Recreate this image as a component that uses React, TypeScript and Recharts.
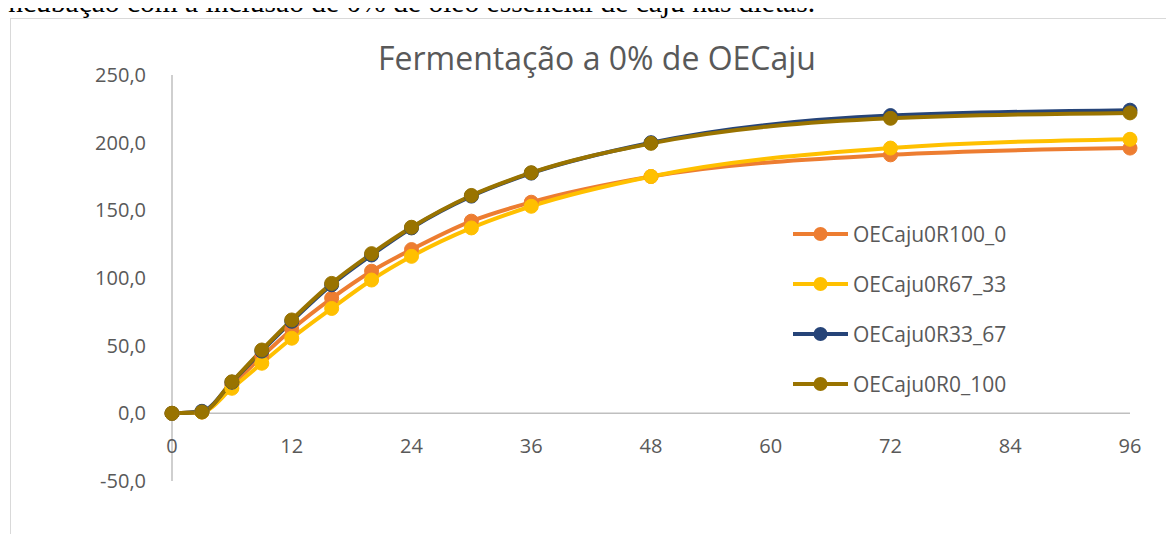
import React from "react";
import { LineChart, Line, XAxis, YAxis, ReferenceLine } from "recharts";

const hours = [0, 3, 6, 9, 12, 16, 20, 24, 30, 36, 48, 72, 96];
const r100_0 = [0, 1, 21, 42, 62, 85, 105, 121, 142, 156, 175, 191, 196];
const r67_33 = [0, 1, 18.5, 37, 55.5, 77.5, 98.5, 116, 137, 153, 175, 196, 202.5];
const r33_67 = [0, 1.5, 23, 46, 68, 95, 117, 137, 160.5, 177.5, 200, 220, 224];
const r0_100 = [0, 1, 23.3, 46.8, 69, 96, 118, 137.5, 161, 177.8, 199.5, 218, 222];
const xTicks = [0, 12, 24, 36, 48, 60, 72, 84, 96];
const yTicks = [-50, 0, 50, 100, 150, 200, 250];

const series = [
  { key: "r100_0", name: "OECaju0R100_0", color: "#ED7D31" },
  { key: "r67_33", name: "OECaju0R67_33", color: "#FFC000" },
  { key: "r33_67", name: "OECaju0R33_67", color: "#264478" },
  { key: "r0_100", name: "OECaju0R0_100", color: "#997300" },
];

const data = hours.map((h, i) => ({
  h,
  r100_0: r100_0[i],
  r67_33: r67_33[i],
  r33_67: r33_67[i],
  r0_100: r0_100[i],
}));

const W = 1174;
const H = 542;
const TOP = 75;
const BOTTOM = 481;
const LEFT = 172;
const RIGHT = 1130;
const Y_AXIS_W = 60;
const X_AXIS_H = 30;
const font = "'Open Sans', sans-serif";
const textGray = "#595959";

// y pixel of value 0, used to put the x labels under the zero line (Excel style)
const zeroY = TOP + ((250 - 0) / 300) * (BOTTOM - TOP);

function XTick(props: any) {
  const { x, payload } = props;
  return (
    <text x={x} y={zeroY + 32} textAnchor="middle" dominantBaseline="central"
      fill={textGray} fontSize={20} fontFamily={font}>
      {payload.value}
    </text>
  );
}

const fmt = (v: number) => v.toFixed(1).replace(".", ",");

export default function App() {
  return (
    <div style={{ position: "relative", width: W, height: H, margin: -8, overflow: "hidden", background: "#fff" }}>
      <div style={{ position: "absolute", left: 0, top: -12, fontFamily: "'Liberation Serif', serif", fontSize: 29.5, lineHeight: "29px", whiteSpace: "nowrap", color: "#000" }}>
        incubação com a inclusão de 0% de óleo essencial de caju nas dietas.
      </div>
      <div style={{ position: "absolute", left: 10, top: 18, width: W, height: H, borderLeft: "1.5px solid #d9d9d9", borderTop: "1.5px solid #d9d9d9" }} />
      <div style={{ position: "absolute", left: 0, top: 0 }}>
        <LineChart width={W} height={H} data={data}
          margin={{ top: TOP, bottom: H - BOTTOM - X_AXIS_H, left: LEFT - Y_AXIS_W, right: W - RIGHT }}>
          <text x={597} y={57} textAnchor="middle" dominantBaseline="central" fill={textGray} fontSize={32} fontFamily={font}>
            Fermentação a 0% de OECaju
          </text>
          <XAxis dataKey="h" type="number" domain={[0, 96]} ticks={xTicks} axisLine={false} tickLine={false}
            height={X_AXIS_H} tick={<XTick />} interval={0} />
          <YAxis domain={[-50, 250]} ticks={yTicks} width={Y_AXIS_W} tickLine={false} tickMargin={20}
            axisLine={{ stroke: "#bfbfbf", strokeWidth: 1.5 }} tickFormatter={fmt}
            tick={{ fill: textGray, fontSize: 20, fontFamily: font }} interval={0} />
          <ReferenceLine y={0} stroke="#bfbfbf" strokeWidth={1.5} />
          {series.map((s) => (
            <Line key={s.key} dataKey={s.key} name={s.name} type="monotone" stroke={s.color} strokeWidth={4}
              dot={{ r: 7, fill: s.color, stroke: s.color, strokeWidth: 1 }} isAnimationActive={false} />
          ))}
        </LineChart>
      </div>
      <div style={{ position: "absolute", left: 793, top: 209, fontFamily: font, fontSize: 21, color: textGray }}>
        {series.map((s) => (
          <div key={s.key} style={{ display: "flex", alignItems: "center", height: 50 }}>
            <svg width={58} height={20} style={{ marginRight: 2 }}>
              <line x1={0} y1={10} x2={55} y2={10} stroke={s.color} strokeWidth={4} />
              <circle cx={27.5} cy={10} r={7} fill={s.color} />
            </svg>
            <span>{s.name}</span>
          </div>
        ))}
      </div>
    </div>
  );
}
